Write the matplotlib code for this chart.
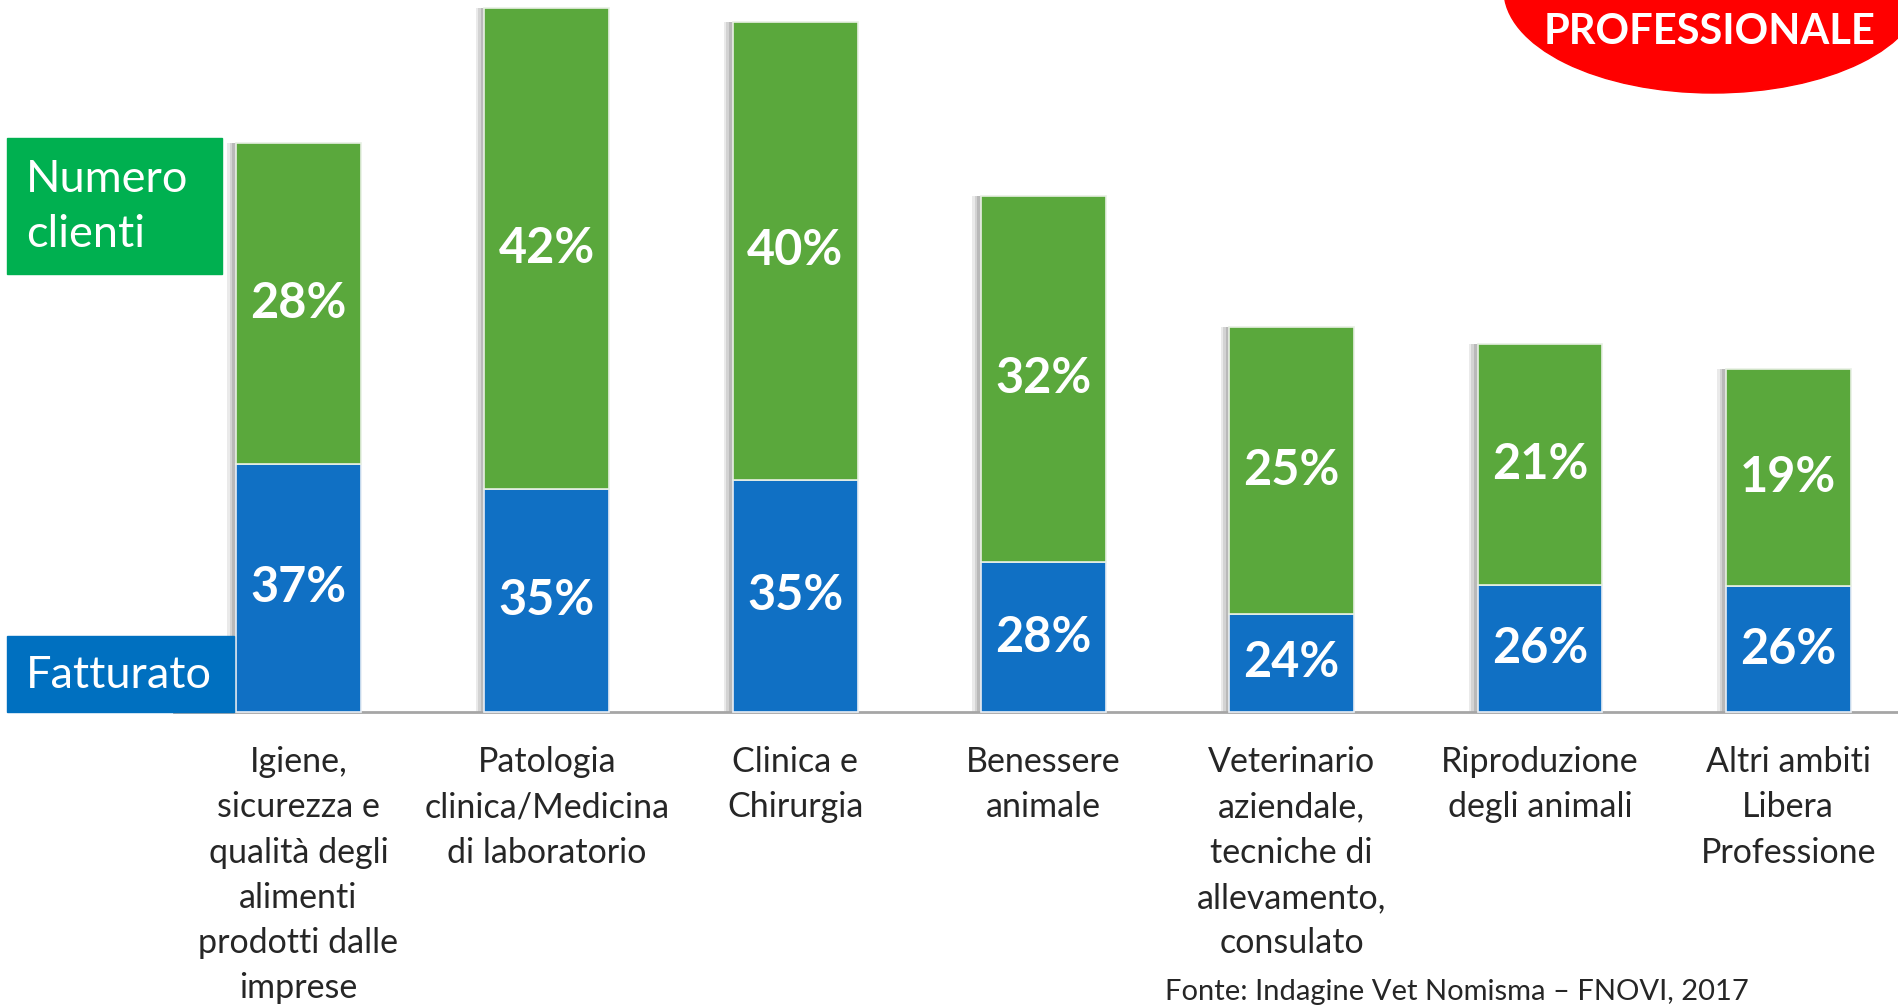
import numpy as np
import matplotlib.pyplot as plt
from matplotlib.patches import Rectangle, Ellipse

plt.rcParams['font.family'] = ['Lato', 'DejaVu Sans']

categories = [
    "Igiene,\nsicurezza e\nqualità degli\nalimenti\nprodotti dalle\nimprese",
    "Patologia\nclinica/Medicina\ndi laboratorio",
    "Clinica e\nChirurgia",
    "Benessere\nanimale",
    "Veterinario\naziendale,\ntecniche di\nallevamento,\nconsulato",
    "Riproduzione\ndegli animali",
    "Altri ambiti\nLibera\nProfessione",
]
clienti = [28, 42, 40, 32, 25, 21, 19]
fatturato = [37, 35, 35, 28, 24, 26, 26]
# blue segments are not drawn to scale in the original: heights
fatturato_h = [21.7, 19.5, 20.3, 13.1, 8.6, 11.1, 11.0]

GREEN = '#5aa83c'
BLUE = '#1070c4'

W, H = 1899, 1008
base_py = 712      # baseline, pixels from top
ppu = 11.45        # pixels per percentage point
x0_px, step_px = 298.5, 248.3


def fx(px):
    return px / W


def fy(py):
    return 1 - py / H


def main():
    fig = plt.figure(figsize=(W / 100, H / 100), dpi=100)
    ax = fig.add_axes([0, 0, 1, 1])
    ax.set_xlim(-x0_px / step_px, (W - x0_px) / step_px)
    ax.set_ylim(-(H - base_py) / ppu, base_py / ppu)
    ax.axis('off')

    x = np.arange(len(categories))
    w = 0.503
    tot = np.array(fatturato_h) + np.array(clienti)

    # soft shadow on the left of the bars
    for k, a in zip([0.035, 0.025, 0.015], [0.12, 0.15, 0.2]):
        ax.bar(x - k, tot, w, color='#555555', alpha=a, zorder=1, linewidth=0)

    ax.plot([-0.5, 7], [0, 0], color='#a6a6a6', lw=2, zorder=1.5)

    ax.bar(x, fatturato_h, w, color=BLUE, edgecolor='#e8eef5', lw=1.2, zorder=2)
    ax.bar(x, clienti, w, bottom=fatturato_h, color=GREEN,
           edgecolor='#e8f0e4', lw=1.2, zorder=2)

    for i in x:
        ax.text(i, fatturato_h[i] / 2, f"{fatturato[i]}%", color='white',
                fontsize=35, fontweight='bold', ha='center', va='center', zorder=3)
        ax.text(i, fatturato_h[i] + clienti[i] / 2, f"{clienti[i]}%",
                color='white', fontsize=35, fontweight='bold',
                ha='center', va='center', zorder=3)
        ax.text(i, (base_py - 746) / ppu, categories[i], color='#262626',
                fontsize=24.5, ha='center', va='top', linespacing=1.51)

    # legend boxes
    fig.patches.append(Rectangle((fx(7), fy(274)), fx(215), 136 / H,
                                 transform=fig.transFigure, color='#00b050'))
    fig.patches.append(Rectangle((fx(7), fy(712)), fx(227), 76 / H,
                                 transform=fig.transFigure, color='#0070c0'))
    fig.text(fx(26), fy(207), "Numero\nclienti", color='white', fontsize=32.5,
             ha='left', va='center', linespacing=1.45)
    fig.text(fx(26), fy(676), "Fatturato", color='white', fontsize=32.5,
             ha='left', va='center')

    # red badge top right
    fig.patches.append(Ellipse((fx(1713), fy(-10)), fx(418), 206 / H,
                               transform=fig.transFigure, color='#ff0000'))
    fig.text(fx(1710), fy(32), "PROFESSIONALE", color='white', fontsize=30,
             fontweight='bold', ha='center', va='center')

    fig.text(fx(1165), fy(1005), "Fonte: Indagine Vet Nomisma \u2013 FNOVI, 2017",
             color='#262626', fontsize=21, ha='left', va='bottom')

    fig.savefig('out.png', dpi=100)
    plt.close()


if __name__ == "__main__":
    main()
